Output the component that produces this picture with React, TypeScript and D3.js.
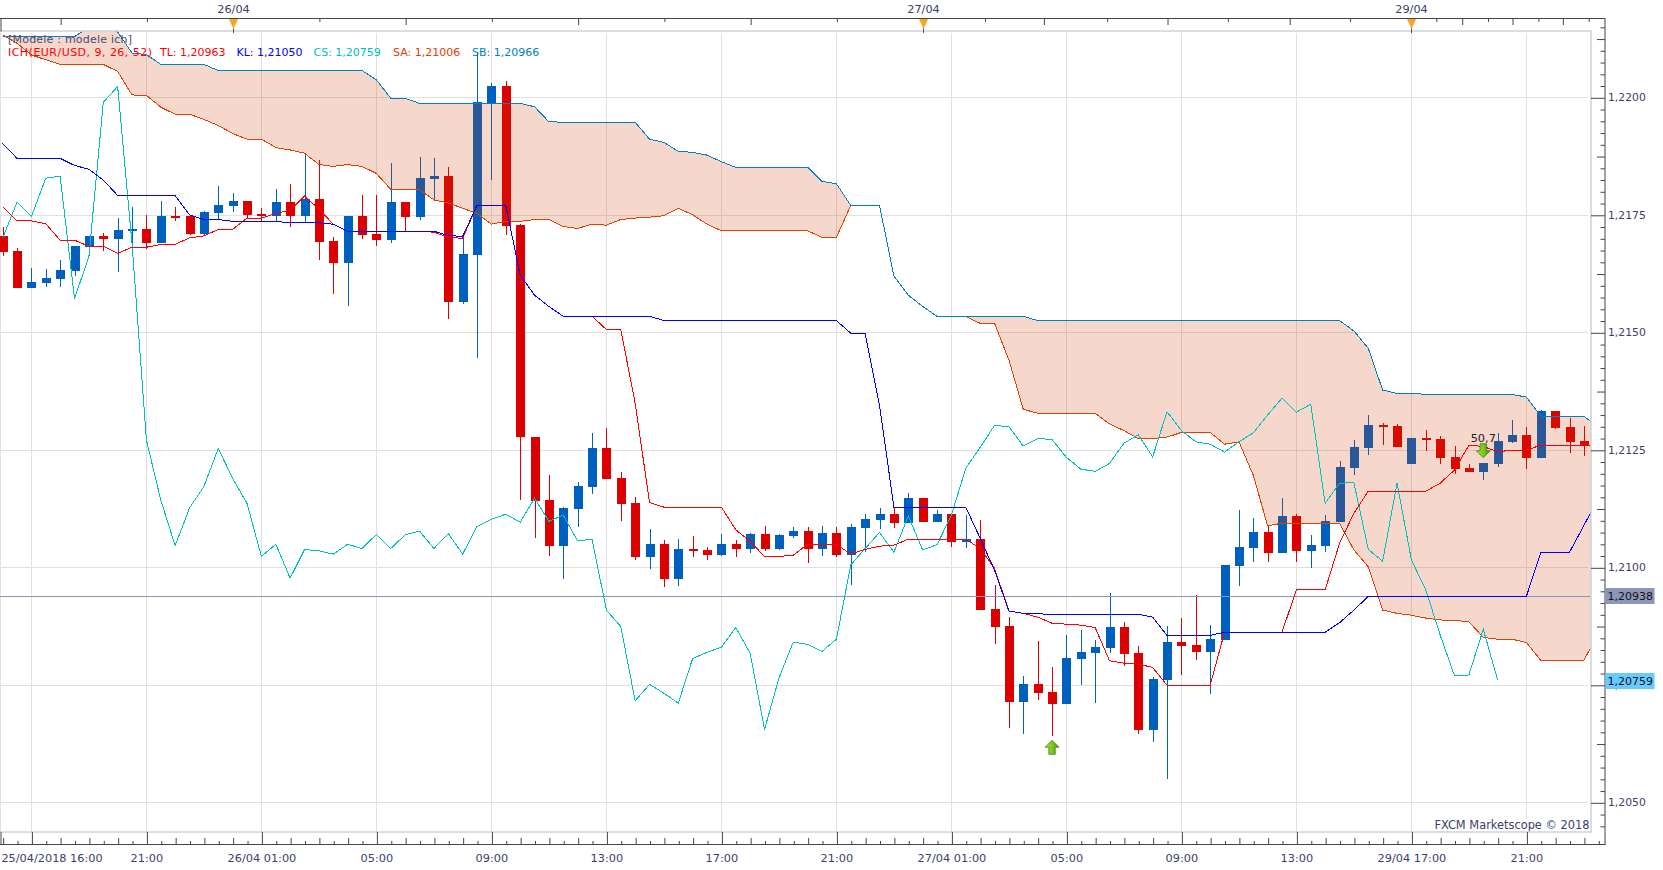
import { useRef, useEffect } from 'react'
import * as d3 from 'd3'

// 30 minute EUR/USD candles, bar 0 is the first one visible on the left
const opens = [
  1.21705, 1.21673, 1.21595, 1.21606, 1.21614, 1.21631, 1.21682, 1.21705, 1.21699, 1.21716,
  1.2172, 1.2169, 1.21748, 1.21748, 1.21709, 1.21754, 1.21769, 1.21779, 1.21752, 1.21748,
  1.21777, 1.21748, 1.21784, 1.21694, 1.21648, 1.21748, 1.21709, 1.21696, 1.21777, 1.21745,
  1.21826, 1.21833, 1.21565, 1.21665, 1.21987, 1.22024, 1.21728, 1.21277, 1.21143, 1.21046,
  1.21124, 1.21171, 1.21254, 1.2119, 1.21137, 1.21022, 1.2105, 1.20975, 1.21039, 1.21037,
  1.21026, 1.2105, 1.21039, 1.21071, 1.21039, 1.21067, 1.21077, 1.21039, 1.21073, 1.21026,
  1.21084, 1.21101, 1.21114, 1.21094, 1.21148, 1.21096, 1.21114, 1.21054, 1.2106, 1.20911,
  1.20875, 1.20713, 1.20752, 1.20735, 1.20709, 1.20805, 1.20818, 1.20828, 1.20873, 1.20818,
  1.20654, 1.2076, 1.20841, 1.20835, 1.2082, 1.20845, 1.21003, 1.21041, 1.21075, 1.2103,
  1.21109, 1.21035, 1.21045, 1.21096, 1.21211, 1.21254, 1.21303, 1.21301, 1.2122, 1.21275,
  1.21273, 1.21235, 1.21211, 1.21203, 1.2122, 1.21267, 1.21282, 1.21233, 1.21333, 1.21299,
  1.21269,
]
const highs = [
  1.21723, 1.21679, 1.21637, 1.21635, 1.21654, 1.21684, 1.21705, 1.21711, 1.21743, 1.21766,
  1.2175, 1.21779, 1.21766, 1.21748, 1.21759, 1.21811, 1.21796, 1.21779, 1.21764, 1.21804,
  1.21816, 1.21877, 1.21867, 1.21703, 1.21748, 1.21792, 1.21792, 1.2186, 1.21777, 1.21873,
  1.21871, 1.21852, 1.21701, 1.22094, 1.2203, 1.22035, 1.2173, 1.21277, 1.21197, 1.21129,
  1.21182, 1.21286, 1.21297, 1.21203, 1.2115, 1.21082, 1.21058, 1.2106, 1.21067, 1.21043,
  1.21071, 1.21058, 1.21073, 1.21088, 1.21071, 1.21086, 1.21086, 1.21088, 1.21086, 1.21092,
  1.21114, 1.21126, 1.21129, 1.21158, 1.21148, 1.21122, 1.21116, 1.21111, 1.21101, 1.20962,
  1.20894, 1.20769, 1.20843, 1.20788, 1.20856, 1.20867, 1.20845, 1.20945, 1.20884, 1.20833,
  1.20767, 1.20875, 1.20892, 1.20941, 1.20877, 1.21005, 1.21122, 1.21105, 1.21088, 1.21148,
  1.21114, 1.21069, 1.21111, 1.21226, 1.21271, 1.21324, 1.21307, 1.21305, 1.21275, 1.21292,
  1.21279, 1.21258, 1.2122, 1.21222, 1.21286, 1.21314, 1.21299, 1.21335, 1.21333, 1.21318,
  1.21301,
]
const lows = [
  1.21662, 1.21594, 1.21594, 1.21597, 1.21597, 1.2162, 1.21679, 1.21674, 1.21629, 1.21687,
  1.21677, 1.2169, 1.21736, 1.21706, 1.21705, 1.2174, 1.21756, 1.21743, 1.21737, 1.21734,
  1.21724, 1.21732, 1.21654, 1.21582, 1.21555, 1.21699, 1.21684, 1.2169, 1.21715, 1.21739,
  1.21779, 1.21528, 1.21561, 1.21446, 1.21824, 1.21707, 1.21143, 1.21063, 1.21025, 1.20976,
  1.21086, 1.21156, 1.21188, 1.21099, 1.21016, 1.20997, 1.20958, 1.2096, 1.21022, 1.21016,
  1.21024, 1.21022, 1.2103, 1.21035, 1.21037, 1.21062, 1.21009, 1.21024, 1.21022, 1.20962,
  1.21033, 1.21082, 1.21084, 1.21094, 1.21096, 1.21096, 1.21043, 1.21041, 1.20909, 1.20837,
  1.20658, 1.20645, 1.20718, 1.20641, 1.20709, 1.2075, 1.20711, 1.20817, 1.20789, 1.20645,
  1.20628, 1.2055, 1.20771, 1.20803, 1.20731, 1.20845, 1.2096, 1.21011, 1.21011, 1.2103,
  1.21011, 1.20999, 1.21033, 1.21096, 1.21197, 1.21239, 1.2126, 1.21256, 1.2122, 1.21248,
  1.2122, 1.21199, 1.21203, 1.21186, 1.21214, 1.21265, 1.21209, 1.21233, 1.21295, 1.21243,
  1.21237,
]
const closes = [
  1.21672, 1.21595, 1.21607, 1.21616, 1.21633, 1.21684, 1.21705, 1.21699, 1.21718, 1.2172,
  1.2169, 1.21748, 1.21746, 1.21709, 1.21756, 1.21771, 1.21779, 1.2175, 1.21748, 1.21777,
  1.21748, 1.21784, 1.21692, 1.21648, 1.21748, 1.21707, 1.21696, 1.21777, 1.21745, 1.21828,
  1.21833, 1.21565, 1.21667, 1.2199, 1.22024, 1.21726, 1.21276, 1.21141, 1.21046, 1.21126,
  1.21173, 1.21254, 1.21188, 1.21135, 1.21022, 1.2105, 1.20975, 1.21039, 1.21035, 1.21026,
  1.2105, 1.21039, 1.21071, 1.21039, 1.21069, 1.21077, 1.21039, 1.21073, 1.21026, 1.21086,
  1.21103, 1.21114, 1.21094, 1.21148, 1.21096, 1.21114, 1.21054, 1.2106, 1.20909, 1.20873,
  1.20713, 1.20752, 1.20733, 1.20709, 1.20807, 1.2082, 1.20831, 1.20873, 1.20816, 1.20654,
  1.20762, 1.20841, 1.20833, 1.2082, 1.20848, 1.21005, 1.21043, 1.21075, 1.2103, 1.21109,
  1.21035, 1.21048, 1.21099, 1.21214, 1.21256, 1.21303, 1.21299, 1.21256, 1.21275, 1.21271,
  1.21233, 1.21209, 1.21203, 1.21222, 1.21269, 1.21282, 1.21233, 1.21333, 1.21297, 1.21267,
  1.2126,
]

// Ichimoku lines
const tenkan = [
  1.21767, 1.21737, 1.21737, 1.21731, 1.21696, 1.21696, 1.21683, 1.21683, 1.21668, 1.21681,
  1.21681, 1.21687, 1.21687, 1.21701, 1.21705, 1.21719, 1.21719, 1.21743, 1.21743, 1.21753,
  1.2176, 1.2179, 1.21762, 1.2173, 1.21715, 1.21715, 1.21715, 1.21715, 1.21715, 1.21715,
  1.21713, 1.21702, 1.217, 1.2177, 1.2177, 1.2177, 1.21622, 1.21579, 1.21555, 1.21534,
  1.21534, 1.21534, 1.21506, 1.21506, 1.21349, 1.21138, 1.21128, 1.21128, 1.21128, 1.21128,
  1.21128, 1.2108, 1.21055, 1.21023, 1.21023, 1.21026, 1.21049, 1.21049, 1.21049, 1.21028,
  1.21038, 1.21045, 1.21047, 1.2106, 1.2106, 1.2106, 1.2106, 1.2106, 1.2104, 1.20998,
  1.20907, 1.20902, 1.20894, 1.20881, 1.20879, 1.20877, 1.20872, 1.20801, 1.20796, 1.20794,
  1.20787, 1.20749, 1.20749, 1.20749, 1.20749, 1.20862, 1.20862, 1.20862, 1.20862, 1.20862,
  1.20952, 1.20952, 1.20952, 1.21051, 1.21115, 1.21162, 1.21162, 1.21162, 1.21162, 1.21162,
  1.21179, 1.21207, 1.2126, 1.21257, 1.21246, 1.21249, 1.21249, 1.2126, 1.2126, 1.2126,
  1.2126, 1.2126,
]
const kijun = [
  1.21902, 1.2187, 1.2187, 1.2187, 1.2187, 1.21855, 1.21847, 1.21824, 1.21791, 1.21791,
  1.21791, 1.21791, 1.21791, 1.2175, 1.2174, 1.2174, 1.21736, 1.21736, 1.21736, 1.21736,
  1.21733, 1.21733, 1.21733, 1.2173, 1.21715, 1.21715, 1.21715, 1.21715, 1.21715, 1.21715,
  1.21715, 1.21706, 1.21704, 1.2177, 1.2177, 1.2177, 1.21622, 1.21579, 1.21555, 1.21534,
  1.21534, 1.21534, 1.21534, 1.21534, 1.21534, 1.21534, 1.21525, 1.21525, 1.21525, 1.21525,
  1.21525, 1.21525, 1.21525, 1.21525, 1.21525, 1.21525, 1.21525, 1.21525, 1.21525, 1.21498,
  1.21498, 1.21345, 1.21128, 1.21128, 1.21128, 1.21128, 1.21128, 1.21128, 1.21062, 1.20994,
  1.20907, 1.20902, 1.20901, 1.209, 1.209, 1.209, 1.209, 1.209, 1.209, 1.209,
  1.20894, 1.20855, 1.20855, 1.20855, 1.20855, 1.20862, 1.20862, 1.20862, 1.20862, 1.20862,
  1.20862, 1.20862, 1.20862, 1.20882, 1.20909, 1.20938, 1.20938, 1.20938, 1.20938, 1.20938,
  1.20938, 1.20938, 1.20938, 1.20938, 1.20938, 1.20938, 1.20938, 1.21032, 1.21032, 1.21032,
  1.21089, 1.21147,
]
const chikou = [
  1.217, 1.21777, 1.21746, 1.21828, 1.21832, 1.21572, 1.21661, 1.21989, 1.22023, 1.21689,
  1.21271, 1.21143, 1.21046, 1.21126, 1.21172, 1.21253, 1.21189, 1.21136, 1.21023, 1.21049,
  1.20977, 1.21038, 1.21035, 1.21028, 1.21049, 1.2104, 1.2107, 1.2104, 1.21069, 1.21077,
  1.2104, 1.21072, 1.21028, 1.21087, 1.21102, 1.21113, 1.21096, 1.21147, 1.21098, 1.21111,
  1.21056, 1.2106, 1.20909, 1.20874, 1.20716, 1.20751, 1.20732, 1.20711, 1.20806, 1.20819,
  1.2083, 1.20872, 1.20817, 1.20655, 1.20764, 1.20841, 1.20836, 1.20821, 1.20847, 1.21005,
  1.2104, 1.21074, 1.21032, 1.21109, 1.21037, 1.21048, 1.21111, 1.21211, 1.21255, 1.21302,
  1.21299, 1.21258, 1.21274, 1.21272, 1.21234, 1.21209, 1.21204, 1.21221, 1.21264, 1.21282,
  1.21235, 1.21331, 1.21291, 1.21267, 1.21262, 1.21245, 1.21267, 1.21286, 1.21324, 1.2136,
  1.2133, 1.21347, 1.21136, 1.21179, 1.2118, 1.21038, 1.21013, 1.21179, 1.21016, 1.20952,
  1.20856, 1.20769, 1.20771, 1.20868, 1.2076,
]
const senkouA = [
  1.22133, 1.22115, 1.2209, 1.2208, 1.2207, 1.2207, 1.2207, 1.2207, 1.22055, 1.22005,
  1.22004, 1.21979, 1.21964, 1.21964, 1.21953, 1.2194, 1.21923, 1.21911, 1.21911, 1.21893,
  1.21888, 1.21881, 1.21857, 1.21853, 1.21857, 1.21853, 1.21838, 1.21804, 1.21804, 1.21803,
  1.21782, 1.21775, 1.21764, 1.21753, 1.2173, 1.21736, 1.21736, 1.2174, 1.2174, 1.21725,
  1.21721, 1.2173, 1.21728, 1.2174, 1.21743, 1.21745, 1.21748, 1.21764, 1.2175, 1.2173,
  1.21716, 1.21716, 1.21716, 1.21716, 1.21716, 1.21716, 1.21716, 1.21702, 1.21702, 1.2177,
  1.2177, 1.2177, 1.2162, 1.21579, 1.21555, 1.21534, 1.21534, 1.21534, 1.21519, 1.21519,
  1.21441, 1.21336, 1.21328, 1.21328, 1.21328, 1.21328, 1.21328, 1.21305, 1.21291, 1.21274,
  1.21274, 1.21277, 1.21287, 1.21287, 1.21287, 1.21262, 1.21267, 1.21196, 1.21088, 1.21094,
  1.21094, 1.21094, 1.21094, 1.21094, 1.21037, 1.21001, 1.20909, 1.20902, 1.20898, 1.20892,
  1.20888, 1.20887, 1.20884, 1.20851, 1.20847, 1.20847, 1.2084, 1.20802, 1.20802, 1.20802,
  1.20802, 1.2086,
]
const senkouB = [
  1.22129, 1.22129, 1.22129, 1.22129, 1.22129, 1.22129, 1.22149, 1.22149, 1.22139, 1.22094,
  1.22091, 1.2207, 1.2207, 1.2207, 1.2207, 1.22057, 1.22057, 1.22057, 1.22057, 1.22057,
  1.22057, 1.22057, 1.22057, 1.22057, 1.22057, 1.22057, 1.22037, 1.21998, 1.21998, 1.21987,
  1.21987, 1.21987, 1.21987, 1.21987, 1.21987, 1.21987, 1.21987, 1.2198, 1.21948, 1.21947,
  1.21947, 1.21947, 1.21947, 1.21947, 1.21947, 1.21911, 1.21904, 1.21885, 1.21883, 1.21877,
  1.21863, 1.21851, 1.21851, 1.21851, 1.21851, 1.21851, 1.21851, 1.21821, 1.21816, 1.2177,
  1.2177, 1.2177, 1.2162, 1.21579, 1.21555, 1.21534, 1.21534, 1.21534, 1.21534, 1.21534,
  1.21534, 1.21534, 1.21525, 1.21525, 1.21525, 1.21525, 1.21525, 1.21525, 1.21525, 1.21525,
  1.21525, 1.21525, 1.21525, 1.21525, 1.21525, 1.21525, 1.21525, 1.21525, 1.21525, 1.21525,
  1.21525, 1.21525, 1.21525, 1.21525, 1.21503, 1.21466, 1.21377, 1.2137, 1.2137, 1.21368,
  1.21368, 1.21368, 1.21368, 1.21368, 1.21368, 1.21368, 1.21362, 1.21322, 1.21321, 1.21321,
  1.21321, 1.21299,
]

const priceLabels = [1.205, 1.2075, 1.21, 1.2125, 1.215, 1.2175, 1.22]

// bottom axis labels, one per grid line
const timeBars = [2, 10, 18, 26, 34, 42, 50, 58, 66, 74, 82, 90, 98, 106]
const timeLabels = [
  '25/04/2018 16:00', '21:00', '26/04 01:00', '05:00', '09:00', '13:00', '17:00', '21:00',
  '27/04 01:00', '05:00', '09:00', '13:00', '29/04 17:00', '21:00',
]

// top axis
const dayBars = [16, 64, 98]
const dayLabels = ['26/04', '27/04', '29/04']
const topLongBars = [4, 28, 40, 52, 72.4, 81, 89.5, 101.5, 105, 108.5]
const topShortBars = [10, 22, 34, 46, 58, 68.3, 76.8, 85.2, 93.7, 99.7, 103.3, 106.8, 110.3]

const lastPrice = 1.20938
const lastChikou = 1.20759
const buySignal = { bar: 73, price: 1.20617 }
const sellSignal = { bar: 103, price: 1.21248, label: '50,7' }

const legendParts = [
  { text: 'ICH(EUR/USD, 9, 26, 52)', x: 8, color: '#ff0000', width: 144 },
  { text: 'TL: 1,20963', x: 160, color: '#ff0000' },
  { text: 'KL: 1,21050', x: 236.5, color: '#0000ff' },
  { text: 'CS: 1,20759', x: 313.5, color: '#00bfbf' },
  { text: 'SA: 1,21006', x: 393, color: '#e04000' },
  { text: 'SB: 1,20966', x: 472, color: '#0080c0' },
]

const FONT = '"DejaVu Sans", sans-serif'
const FONT_SIZE = 11.3
const LEGEND_SIZE = 11
const TEXT = '#3d3d6e'
const AXIS = '#454545'
const UP = '#0060bf'
const DOWN = '#dd0000'

const W = 1663
const H = 870
const plot = { left: 0, right: 1591, top: 31, bottom: 832 }
const axisRight = 1605
const axisTopY = 18.5
const axisBottomY = 844.5

const comma = (v: number, digits: number) => v.toFixed(digits).replace('.', ',')

export default function App() {
  const svgRef = useRef<SVGSVGElement>(null)

  useEffect(() => {
    if (!svgRef.current) return
    const svg = d3.select(svgRef.current)
    svg.selectAll('*').remove()

    const x = d3.scaleLinear().domain([2, 106]).range([31.4, 1526.4])
    const y = d3.scaleLinear().domain([1.205, 1.22]).range([802.3, 97.3])
    const px = (b: number) => Math.round(x(b)) + 0.5
    const py = (v: number) => Math.round(y(v)) + 0.5

    svg.append('rect').attr('width', W).attr('height', H).attr('fill', '#fff')

    const defs = svg.append('defs')
    defs.append('clipPath').attr('id', 'plot-clip')
      .append('rect')
      .attr('x', plot.left).attr('y', plot.top)
      .attr('width', plot.right - plot.left).attr('height', plot.bottom - plot.top)
    const grad = defs.append('linearGradient').attr('id', 'arrow-green').attr('x1', 0).attr('x2', 1).attr('y1', 0).attr('y2', 0)
    grad.append('stop').attr('offset', '0%').attr('stop-color', '#a6dc3c')
    grad.append('stop').attr('offset', '55%').attr('stop-color', '#7cc41e')
    grad.append('stop').attr('offset', '100%').attr('stop-color', '#3f8f10')

    const g = svg.append('g').attr('clip-path', 'url(#plot-clip)')

    // Grid
    g.append('g').selectAll('line')
      .data(priceLabels)
      .join('line')
      .attr('x1', plot.left).attr('x2', plot.right - 3)
      .attr('y1', (d) => py(d)).attr('y2', (d) => py(d))
      .attr('stroke', '#e0e0e0')
    g.append('g').selectAll('line')
      .data([0, ...timeBars])
      .join('line')
      .attr('x1', (d, i) => (i === 0 ? 0.5 : px(d))).attr('x2', (d, i) => (i === 0 ? 0.5 : px(d)))
      .attr('y1', 33).attr('y2', plot.bottom)
      .attr('stroke', '#e0e0e0')

    // Candles
    const bars = opens.map((o, i) => ({ i, o, h: highs[i], l: lows[i], c: closes[i] }))
    const candle = g.append('g').selectAll('g').data(bars).join('g')
    candle.append('line')
      .attr('x1', (d) => px(d.i)).attr('x2', (d) => px(d.i))
      .attr('y1', (d) => y(d.h)).attr('y2', (d) => y(d.l))
      .attr('stroke', (d) => (d.c >= d.o ? UP : DOWN))
      .attr('shape-rendering', 'crispEdges')
    candle.append('rect')
      .attr('x', (d) => px(d.i) - 4.5)
      .attr('width', 9)
      .attr('y', (d) => Math.round(y(Math.max(d.o, d.c))))
      .attr('height', (d) => Math.max(2, Math.round(Math.abs(y(d.o) - y(d.c)))))
      .attr('fill', (d) => (d.c >= d.o ? UP : DOWN))
      .attr('shape-rendering', 'crispEdges')

    // Cloud goes over the candles, they show through it
    const cloud = d3.area<number>()
      .x((_, i) => x(i))
      .y0((d) => y(d))
      .y1((_, i) => y(senkouB[i]))
    g.append('path').attr('d', cloud(senkouA)).attr('fill', 'rgba(205,55,0,0.2)')

    // Last price line
    g.append('line')
      .attr('x1', plot.left).attr('x2', plot.right)
      .attr('y1', py(lastPrice)).attr('y2', py(lastPrice))
      .attr('stroke', '#8494c4')

    const line = d3.line<number>().x((_, i) => x(i)).y((d) => y(d))
    const series = [
      { values: senkouA, color: '#e04000' },
      { values: senkouB, color: '#0080c0' },
      { values: chikou, color: '#00bfbf' },
      { values: tenkan, color: '#ff0000' },
      { values: kijun, color: '#0000ff' },
    ]
    g.append('g').selectAll('path')
      .data(series)
      .join('path')
      .attr('d', (d) => line(d.values))
      .attr('fill', 'none')
      .attr('stroke', (d) => d.color)
      .attr('stroke-width', 1)
      .attr('shape-rendering', 'crispEdges')

    // Signal arrows
    const arrow = 'M0,-7L7,0L3.2,0L3.2,7L-3.2,7L-3.2,0L-7,0Z'
    g.append('path')
      .attr('d', arrow)
      .attr('transform', `translate(${x(buySignal.bar)},${y(buySignal.price)})`)
      .attr('fill', 'url(#arrow-green)').attr('stroke', '#2f7d0a').attr('stroke-width', 0.7)
    g.append('path')
      .attr('d', arrow)
      .attr('transform', `translate(${x(sellSignal.bar)},${y(sellSignal.price)}) scale(1,-1)`)
      .attr('fill', 'url(#arrow-green)').attr('stroke', '#2f7d0a').attr('stroke-width', 0.7)
    g.append('text')
      .attr('x', x(sellSignal.bar)).attr('y', y(sellSignal.price) - 13)
      .attr('dy', '0.36em')
      .attr('text-anchor', 'middle')
      .attr('font-family', FONT).attr('font-size', FONT_SIZE)
      .attr('fill', '#222')
      .text(sellSignal.label)

    // Legend
    svg.append('text')
      .attr('x', 8).attr('y', 39).attr('dy', '0.36em')
      .attr('font-family', FONT).attr('font-size', LEGEND_SIZE)
      .attr('textLength', 124).attr('lengthAdjust', 'spacing')
      .attr('fill', '#4a4a72')
      .text('[Modele : modele ich]')
    svg.append('g').selectAll('text')
      .data(legendParts)
      .join('text')
      .attr('x', (d) => d.x).attr('y', 52).attr('dy', '0.36em')
      .attr('font-family', FONT).attr('font-size', LEGEND_SIZE)
      .attr('textLength', (d) => d.width ?? null).attr('lengthAdjust', 'spacing')
      .attr('fill', (d) => d.color)
      .text((d) => d.text)

    // Watermark sits on a white patch that cuts the grid
    svg.append('rect').attr('x', 1434).attr('y', 818).attr('width', 156).attr('height', 13).attr('fill', '#fff')
    svg.append('text')
      .attr('x', 1589.5).attr('y', 825).attr('dy', '0.36em')
      .attr('text-anchor', 'end')
      .attr('font-family', FONT).attr('font-size', 11.4)
      .attr('fill', TEXT)
      .text('FXCM Marketscope © 2018')

    // Plot frame
    svg.append('path')
      .attr('d', `M${plot.left},${plot.top}H${plot.right}V${plot.bottom}H${plot.left}`)
      .attr('fill', 'none')
      .attr('stroke', '#ccd3de')
      .attr('stroke-width', 1.6)

    const styleAxis = (sel: d3.Selection<SVGGElement, unknown, null, undefined>) => {
      sel.select('.domain').attr('stroke', AXIS)
      sel.selectAll('.tick line').attr('stroke', AXIS)
      sel.selectAll('text').attr('font-family', FONT).attr('font-size', FONT_SIZE).attr('fill', TEXT)
    }

    // Bottom axis: a tick per bar, taller on even bars and on the grid lines
    const allBars = d3.range(0, 112)
    const bottom = svg.append('g').attr('transform', `translate(0.5,${axisBottomY})`)
    bottom.call(d3.axisTop(x).tickValues(allBars).tickSizeOuter(0).tickFormat(() => ''))
    bottom.select('.domain').attr('d', `M-0.5,0H${axisRight}`)
    bottom.selectAll<SVGLineElement, number>('.tick line')
      .attr('y2', (d) => (d % 8 === 2 ? -12.5 : d % 2 === 0 ? -6.5 : -3.5))
    bottom.append('line').attr('class', 'edge').attr('x1', 0.5).attr('x2', 0.5).attr('y1', 0).attr('y2', -12.5).attr('stroke', AXIS)
    styleAxis(bottom)

    const timeAxis = svg.append('g').attr('transform', `translate(0,${axisBottomY + 9})`)
    timeAxis.call(d3.axisBottom(x).tickValues(timeBars).tickSize(0).tickPadding(0)
      .tickFormat((_, i) => timeLabels[i]))
    timeAxis.select('.domain').remove()
    styleAxis(timeAxis)
    timeAxis.select('.tick text').attr('text-anchor', 'start').attr('x', -30.5)

    // Top axis
    const top = svg.append('g').attr('transform', `translate(0.5,${axisTopY})`)
    top.call(d3.axisBottom(x).tickValues([...topLongBars, ...topShortBars]).tickSize(0).tickFormat(() => ''))
    top.select('.domain').attr('d', `M-0.5,0H${axisRight}`)
    top.selectAll<SVGLineElement, number>('.tick line')
      .attr('y2', (d) => (topLongBars.includes(d) ? 6.5 : 3.5))
    top.append('line').attr('x1', 0.5).attr('x2', 0.5).attr('y1', 0).attr('y2', 13).attr('stroke', AXIS)
    styleAxis(top)

    const days = svg.append('g')
    const day = days.selectAll('g').data(dayBars).join('g')
      .attr('transform', (d) => `translate(${px(d)},0)`)
    day.append('line').attr('y1', axisTopY).attr('y2', 33).attr('stroke', '#555')
    day.append('path').attr('d', `M-4.5,19L4.5,19L0,29Z`).attr('fill', '#f9a526')
    day.append('text')
      .attr('y', 9).attr('dy', '0.36em')
      .attr('text-anchor', 'middle')
      .attr('font-family', FONT).attr('font-size', FONT_SIZE).attr('fill', TEXT)
      .text((_, i) => dayLabels[i])

    // Price axis: a tick per 2.5 pips, longer every 12.5, labelled every 25
    const priceTicks = d3.range(0, 69).map((k) => 1.2045 + k * 0.00025)
    const isMultiple = (v: number, step: number) => Math.abs(v / step - Math.round(v / step)) < 1e-6
    const right = svg.append('g').attr('transform', `translate(${axisRight},0.5)`)
    right.call(d3.axisLeft(y).tickValues(priceTicks).tickSize(0).tickFormat(() => ''))
    right.select('.domain').attr('d', `M0,${axisTopY}V${axisBottomY}`)
    right.selectAll<SVGLineElement, number>('.tick line')
      .attr('x2', (d) => (isMultiple(d, 0.0025) ? -14 : isMultiple(d, 0.00125) ? -8 : -4.5))
    styleAxis(right)

    const priceAxis = svg.append('g').attr('transform', `translate(${axisRight},0)`)
    priceAxis.call(d3.axisRight(y).tickValues(priceLabels).tickSize(0).tickPadding(3)
      .tickFormat((d) => comma(+d, 4)))
    priceAxis.select('.domain').remove()
    styleAxis(priceAxis)
    priceAxis.selectAll('text').attr('font-size', 10.8)

    // Value boxes on the price axis
    const boxes = [
      { value: lastPrice, fill: '#8c96b8' },
      { value: lastChikou, fill: '#66ccff' },
    ]
    const box = svg.append('g').selectAll('g').data(boxes).join('g')
      .attr('transform', (d) => `translate(${axisRight},${py(d.value)})`)
    box.append('rect').attr('x', 0.5).attr('y', -8.5).attr('width', 49).attr('height', 16).attr('fill', (d) => d.fill)
    box.append('text')
      .attr('x', 2.5).attr('dy', '0.36em')
      .attr('font-family', FONT).attr('font-size', 11).attr('fill', '#111')
      .text((d) => comma(d.value, 5))
  }, [])

  return (
    <svg
      ref={svgRef}
      width={W}
      height={H}
      style={{ position: 'absolute', left: 0, top: 0, display: 'block' }}
    />
  )
}
